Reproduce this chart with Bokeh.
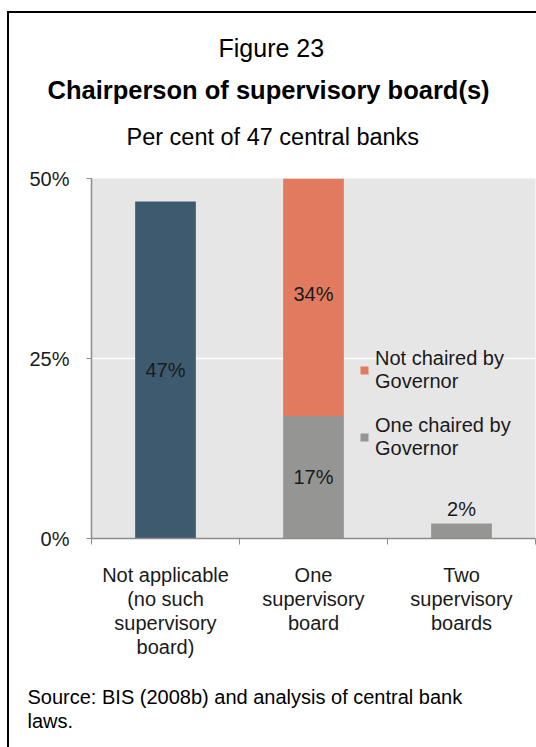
from bokeh.plotting import figure
from bokeh.models import (Range1d, LinearAxis, FixedTicker, Title,
                          ColumnDataSource, Legend, LegendItem)
from bokeh.core.properties import value
from bokeh.embed import file_html
from bokeh.resources import INLINE

# ---------------- data ----------------
categories = ["Not applicable", "One supervisory board", "Two supervisory boards"]
category_labels = ["Not applicable\n(no such\nsupervisory\nboard)",
                   "One\nsupervisory\nboard",
                   "Two\nsupervisory\nboards"]
not_applicable = [46.8, 0.0, 0.0]
one_chaired = [0.0, 17.0, 2.1]
not_chaired = [0.0, 34.0, 0.0]
value_labels_na = ["47%", "", ""]
value_labels_one = ["", "17%", "2%"]
value_labels_not = ["", "34%", ""]
legend_labels = ["Not chaired by\nGovernor", "One chaired by\nGovernor"]
y_ticks = [0, 25, 50]
y_tick_labels = ["0%", "25%", "50%"]

FONT = "Liberation Sans"
C_NA = "#3D5A6F"
C_ONE = "#959693"
C_NOT = "#E27A5F"

n = len(categories)
centers = [i + 0.5 for i in range(n)]
src = ColumnDataSource(dict(x=centers, cat=categories, na=not_applicable, one=one_chaired, nc=not_chaired))

p = figure(x_range=Range1d(0, n), y_range=Range1d(0, 50),
           width=527, height=734, output_backend="svg", toolbar_location=None,
           x_axis_location=None, min_border_left=82, min_border_right=3,
           min_border_top=165, min_border_bottom=211)
p.styles = {"margin": "11px 0px 0px 7px", "border-top": "2px solid black",
            "border-left": "2px solid black", "box-sizing": "content-box"}
p.background_fill_color = "#E6E6E6"
p.border_fill_color = "white"
p.outline_line_color = None

rs = p.vbar_stack(["na", "one", "nc"], x="x", width=0.41, source=src,
                  color=[C_NA, C_ONE, C_NOT], line_color=None)
r_na, r_one, r_not = rs

# value labels
lx, ly, lt = [], [], []
ax, ay, at = [], [], []
for i in range(n):
    base = 0.0
    for vals, labs in ((not_applicable, value_labels_na), (one_chaired, value_labels_one),
                       (not_chaired, value_labels_not)):
        v = vals[i]
        if v > 0 and labs[i]:
            if v < 5:
                ax.append(centers[i]); ay.append(base + v); at.append(labs[i])
            else:
                lx.append(centers[i]); ly.append(base + v / 2); lt.append(labs[i])
        base += v
p.text(x="x", y="y", text="t", source=ColumnDataSource(dict(x=lx, y=ly, t=lt)),
       text_font=value(FONT), text_font_size="20px", text_color="#1a1a1a",
       text_align="center", text_baseline="middle")
p.text(x="x", y="y", text="t", source=ColumnDataSource(dict(x=ax, y=ay, t=at)),
       text_font=value(FONT), text_font_size="20px", text_color="#1a1a1a",
       text_align="center", text_baseline="bottom", y_offset=-3)

# y axis
AX_C = "#8C8C8C"
ya = p.yaxis[0]
ya.ticker = FixedTicker(ticks=y_ticks)
ya.major_label_overrides = {t: l for t, l in zip(y_ticks, y_tick_labels)}
ya.major_label_text_font = FONT
ya.major_label_text_font_size = "20px"
ya.major_label_text_color = "#1a1a1a"
ya.major_label_standoff = 17
ya.major_tick_in = 0
ya.major_tick_out = 5
ya.minor_tick_line_color = None
ya.axis_line_color = AX_C
ya.major_tick_line_color = AX_C
ya.axis_line_width = 1.5

p.ygrid.ticker = FixedTicker(ticks=y_ticks)
p.ygrid.grid_line_color = "white"
p.ygrid.grid_line_width = 1.5
p.xgrid.grid_line_color = None

# x axis: boundary ticks + category labels
bounds = list(range(n + 1))
tick_axis = LinearAxis(ticker=FixedTicker(ticks=bounds),
                       major_label_overrides={b: "" for b in bounds},
                       major_label_standoff=0, major_tick_in=0, major_tick_out=6,
                       minor_tick_line_color=None, axis_line_color=AX_C,
                       major_tick_line_color=AX_C, axis_line_width=1.5)
p.add_layout(tick_axis, "below")
cat_axis = LinearAxis(ticker=FixedTicker(ticks=centers),
                      major_label_overrides={c: l for c, l in zip(centers, category_labels)},
                      axis_line_color=None, major_tick_line_color=None,
                      minor_tick_line_color=None,
                      major_tick_in=0, major_tick_out=0, major_label_standoff=19,
                      major_label_text_font=FONT, major_label_text_font_size="20px",
                      major_label_text_color="#1a1a1a",
                      major_label_text_line_height=1.1)
p.add_layout(cat_axis, "below")

# legend
legend = Legend(items=[LegendItem(label=legend_labels[0], renderers=[r_not]),
                       LegendItem(label=legend_labels[1], renderers=[r_one])],
                location=(268, 78), orientation="vertical", glyph_width=10, glyph_height=10,
                label_standoff=6, spacing=21, padding=0, margin=0,
                border_line_color=None, background_fill_alpha=0,
                label_text_font=FONT, label_text_font_size="20px",
                label_text_color="#1a1a1a", label_text_line_height=1.2)
p.add_layout(legend)

# titles (stacked outward from the plot frame) and source note
def add_title(text, size, place, style="normal", offset=0):
    p.add_layout(Title(text=text, text_font=FONT, text_font_size=f"{size}px",
                       text_font_style=style, align="left", offset=offset,
                       standoff=0, text_color="black"), place)

def add_gap(size, place):
    p.add_layout(Title(text=" ", text_font=FONT, text_font_size=f"{size}px", standoff=0), place)

add_gap(24.5, "above")
add_title("Per cent of 47 central banks", 23.5, "above", offset=35)
add_gap(14, "above")
add_title("Chairperson of supervisory board(s)", 25.5, "above", "bold", offset=-44)
add_gap(9, "above")
add_title("Figure 23", 25, "above", offset=127)

add_gap(18, "below")
add_title("Source: BIS (2008b) and analysis of central bank", 20, "below", offset=-64)
add_title("laws.", 20, "below", offset=-64)

open("out.html", "w").write(file_html(p, INLINE))
